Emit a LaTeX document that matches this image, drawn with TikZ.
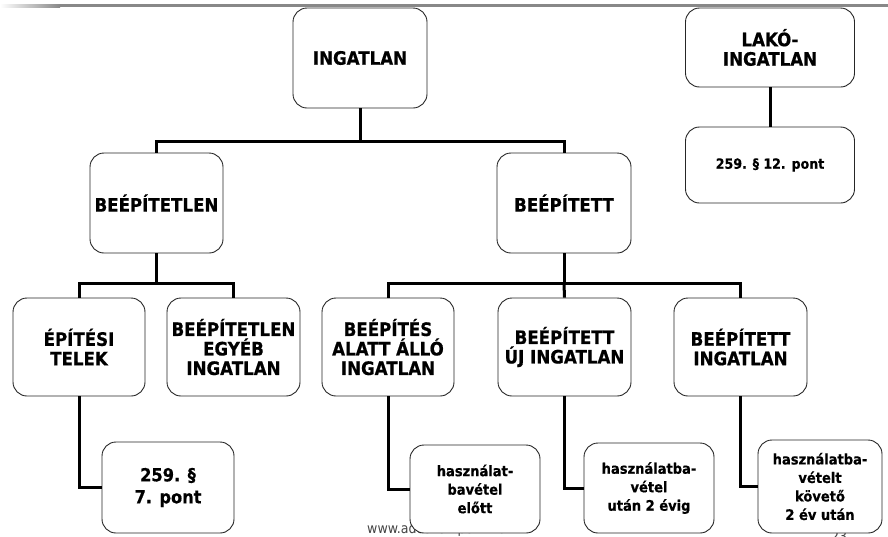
\documentclass[tikz,border=0pt]{standalone}
\usepackage{fontspec}
\setmainfont{DejaVu Sans}[FakeStretch=0.9, BoldFeatures={FakeBold=0.6}]
\definecolor{bargray}{HTML}{888888}
\definecolor{webgray}{HTML}{444444}
\tikzset{
  box/.style={draw=black!85, line width=0.9pt, rounded corners=14pt, fill=white,
    align=center, inner sep=0pt, font=\bfseries\fontsize{18.5}{19.5}\selectfont},
  notebox/.style={box, font=\bfseries\fontsize{14.5}{18.5}\selectfont},
  conn/.style={line width=3pt, black},
  footer/.style={text=webgray, inner sep=0pt, font=\fontsize{14}{16}\selectfont}
}
\begin{document}
\begin{tikzpicture}[x=1pt,y=-1pt]
\def\rowa{58}
\def\rowb{203}
\def\rowc{347}
\def\rowd{488}
\useasboundingbox (0,0) rectangle (888,536);

% top bar
\shade[left color=white, right color=bargray] (0,4) rectangle (60,7);
\fill[bargray] (60,4) rectangle (888,7);

% footer, lies under the boxes
\node[footer, anchor=base west] (web) at (367,533) {www.adoszempont.hu};
\node[footer, anchor=base west] (page) at (831,541) {23};

% first row
\node[box, minimum width=134pt, minimum height=100pt] (ingatlan) at (360,\rowa) {INGATLAN};
\node[box, minimum width=169pt, minimum height=79pt] (lako) at (770,47.5) {LAKÓ-\\INGATLAN};
\node[box, font=\bfseries\fontsize{14}{16}\selectfont, minimum width=169pt, minimum height=76pt] (lakopont) at (770,165) {259. § 12. pont};

% second row
\node[box, minimum width=133pt, minimum height=100pt] (beepitetlen) at (156.5,\rowb) {BEÉPÍTETLEN};
\node[box, minimum width=134pt, minimum height=100pt] (beepitett) at (564,\rowb) {BEÉPÍTETT};

% third row
\node[box, minimum width=132pt, minimum height=98pt] (telek) at (79,\rowc) {ÉPÍTÉSI\\TELEK};
\node[box, minimum width=133pt, minimum height=98pt] (egyeb) at (233.5,\rowc) {BEÉPÍTETLEN\\EGYÉB\\INGATLAN};
\node[box, minimum width=132pt, minimum height=98pt] (alatt) at (388,\rowc) {BEÉPÍTÉS\\ALATT ÁLLÓ\\INGATLAN};
\node[box, minimum width=133pt, minimum height=98pt] (ujingatlan) at (564.5,\rowc) {BEÉPÍTETT\\ÚJ INGATLAN};
\node[box, minimum width=133pt, minimum height=98pt] (regiingatlan) at (740.5,\rowc) {BEÉPÍTETT\\INGATLAN};

% fourth row
\node[box, font=\bfseries\fontsize{18}{22}\selectfont, minimum width=132pt, minimum height=91pt] (hetpont) at (168,487.5) {259. §\\7. pont};
\node[notebox, minimum width=130pt, minimum height=88pt] (elott) at (475,489) {használat-\\bavétel\\előtt};
\node[notebox, minimum width=130pt, minimum height=90pt] (ketevig) at (649,488) {használatba-\\vétel\\után 2 évig};
\node[notebox, minimum width=124pt, minimum height=93pt] (ketevutan) at (820,486.5) {használatba-\\vételt\\követő\\2 év után};

% connectors
\draw[conn] (lako) -- (lakopont);
\draw[conn] (ingatlan.south) -- ++(0,33) coordinate (osztaS);
\draw[conn] (beepitetlen.north) |- (osztaS) -| (beepitett.north);
\draw[conn] (beepitetlen.south) -- ++(0,30) coordinate (osztbS);
\draw[conn] (telek.north) |- (osztbS) -| (egyeb.north);
\draw[conn] (beepitett.south) -- ++(0,30) coordinate (osztcS);
\draw[conn] (alatt.north) |- (osztcS) -| (regiingatlan.north);
\draw[conn] (osztcS) -- (ujingatlan.north);
\draw[conn] (telek.south) |- (hetpont.west);
\draw[conn] (alatt.south) |- (elott.west);
\draw[conn] (ujingatlan.south) |- (ketevig.west);
\draw[conn] (regiingatlan.south) |- (ketevutan.west);

\end{tikzpicture}
\end{document}
